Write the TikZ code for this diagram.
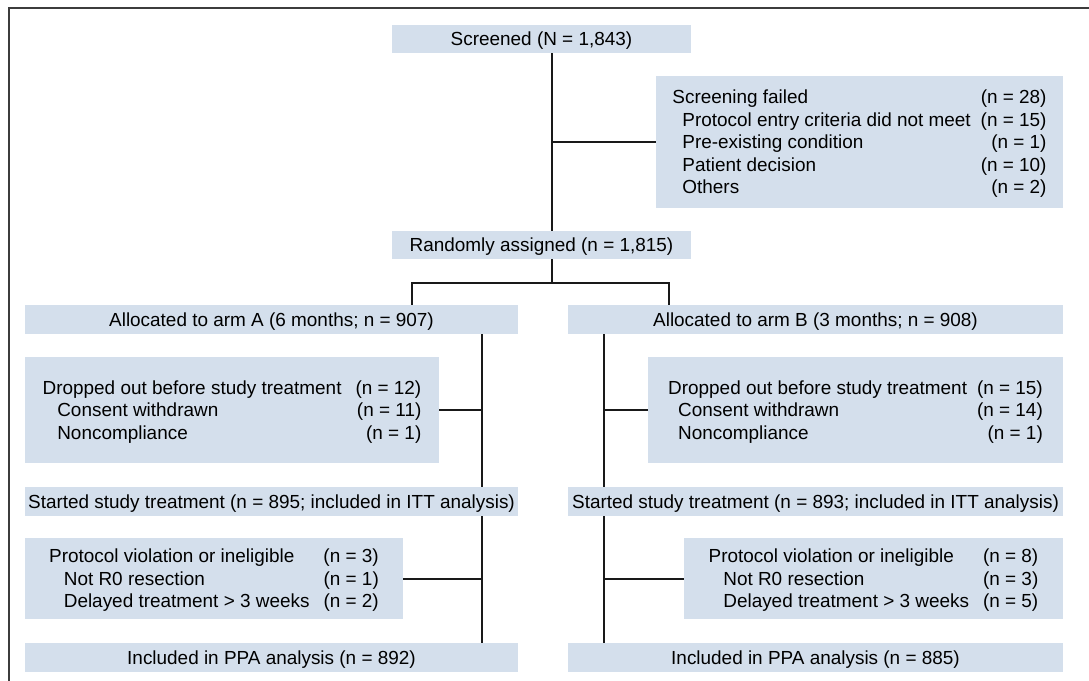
\documentclass[tikz,border=0pt]{standalone}
\usepackage{fontspec}
\setmainfont{Liberation Sans}
\definecolor{boxfill}{RGB}{212,223,236}
\definecolor{framec}{RGB}{60,60,60}
\definecolor{linec}{RGB}{25,25,25}
\begin{document}
\begin{tikzpicture}[x=0.75pt,y=-0.75pt,
  box/.style={fill=boxfill, inner sep=0pt, anchor=center, font=\fontsize{14.2}{16.9}\selectfont,
    text height=10.2pt, text depth=0pt},
  tab3/.style={text height=0pt, text depth=23.6pt},
  tab5/.style={text height=0pt, text depth=57.4pt},
  wide/.style={minimum width=369.75pt, minimum height=21.75pt},
  conn/.style={line width=1.5pt, draw=linec}]
\useasboundingbox (0,0) rectangle (1089,681);
\draw[framec, line width=1pt] (9,681) -- (9,8) -- (1089,8);
% coordinates of the vertical lines
\coordinate (sx) at (552,0);
\coordinate (la) at (412,0);
\coordinate (lb) at (669,0);
\coordinate (br) at (552,283);
\coordinate (spA) at (482,0);
\coordinate (spB) at (604,0);
% boxes
\node[box, minimum width=224.25pt, minimum height=21pt] (scr) at (541.5,39) {Screened (N = 1,843)};
\node[box, tab5, minimum width=305.25pt, minimum height=99pt] (sf) at (859.5,142) {\begin{tabular}[t]{@{}l@{\hspace{7.5pt}}r@{}}
Screening failed & (n = 28)\\
\hspace*{7.5pt}Protocol entry criteria did not meet & (n = 15)\\
\hspace*{7.5pt}Pre-existing condition & (n = 1)\\
\hspace*{7.5pt}Patient decision & (n = 10)\\
\hspace*{7.5pt}Others & (n = 2)
\end{tabular}};
\node[box, minimum width=224.25pt, minimum height=21pt] (rnd) at (541.5,245) {Randomly assigned (n = 1,815)};
\node[box, wide] (armA) at (271.5,319.5) {Allocated to arm A (6 months; n = 907)};
\node[box, wide, minimum width=371.25pt] (armB) at (815.5,319.5) {Allocated to arm B (3 months; n = 908)};
\node[box, tab3, minimum width=310.5pt, minimum height=79.5pt] (dropA) at (232,410) {\begin{tabular}[t]{@{}l@{\hspace{10.5pt}}r@{}}
Dropped out before study treatment & (n = 12)\\
\hspace*{11pt}Consent withdrawn & (n = 11)\\
\hspace*{11pt}Noncompliance & (n = 1)
\end{tabular}};
\node[box, tab3, minimum width=311.25pt, minimum height=79.5pt] (dropB) at (855.5,410) {\begin{tabular}[t]{@{}l@{\hspace{7.5pt}}r@{}}
Dropped out before study treatment & (n = 15)\\
\hspace*{7.5pt}Consent withdrawn & (n = 14)\\
\hspace*{7.5pt}Noncompliance & (n = 1)
\end{tabular}};
\node[box, wide] (startA) at (271.5,501.5) {Started study treatment (n = 895; included in ITT analysis)};
\node[box, wide, minimum width=371.25pt] (startB) at (815.5,501.5) {Started study treatment (n = 893; included in ITT analysis)};
\node[box, tab3, minimum width=283.5pt, minimum height=60.75pt] (protA) at (214,578.5) {\begin{tabular}[t]{@{}l@{\hspace{10.5pt}}r@{}}
Protocol violation or ineligible & (n = 3)\\
\hspace*{11pt}Not R0 resection & (n = 1)\\
\hspace*{11pt}Delayed treatment > 3 weeks & (n = 2)
\end{tabular}};
\node[box, tab3, minimum width=284.25pt, minimum height=60.75pt] (protB) at (873.5,578.5) {\begin{tabular}[t]{@{}l@{\hspace{10.5pt}}r@{}}
Protocol violation or ineligible & (n = 8)\\
\hspace*{11pt}Not R0 resection & (n = 3)\\
\hspace*{11pt}Delayed treatment > 3 weeks & (n = 5)
\end{tabular}};
\node[box, wide] (ppaA) at (271.5,657.5) {Included in PPA analysis (n = 892)};
\node[box, wide, minimum width=371.25pt] (ppaB) at (815.5,657.5) {Included in PPA analysis (n = 885)};
% connectors
\draw[conn] (scr.south -| sx) -- (rnd.north -| sx);
\draw[conn] (sf.west) -- (sf.west -| sx);
\draw[conn] (rnd.south -| sx) -- (br);
\draw[conn] (armA.north -| la) -- (la |- br) -- (lb |- br) -- (armB.north -| lb);
\draw[conn] (armA.south -| spA) -- (startA.north -| spA);
\draw[conn] (startA.south -| spA) -- (ppaA.north -| spA);
\draw[conn] (armB.south -| spB) -- (startB.north -| spB);
\draw[conn] (startB.south -| spB) -- (ppaB.north -| spB);
\draw[conn] (dropA.east) -- (dropA.east -| spA);
\draw[conn] (protA.east) -- (protA.east -| spA);
\draw[conn] (dropB.west) -- (dropB.west -| spB);
\draw[conn] (protB.west) -- (protB.west -| spB);
\end{tikzpicture}
\end{document}
